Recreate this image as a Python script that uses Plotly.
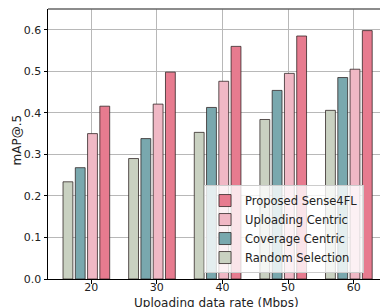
import plotly.graph_objects as go

rates = [20, 30, 40, 50, 60]
random_sel = [0.234, 0.290, 0.353, 0.384, 0.406]
coverage = [0.268, 0.338, 0.413, 0.454, 0.485]
uploading = [0.350, 0.421, 0.476, 0.495, 0.505]
proposed = [0.416, 0.498, 0.560, 0.585, 0.598]

series = [
    ("Random Selection", random_sel, "#c9d1c1", -4.30),
    ("Coverage Centric", coverage, "#79a8ae", -2.43),
    ("Uploading Centric", uploading, "#f0b8c5", -0.56),
    ("Proposed Sense4FL", proposed, "#e77b8f", 1.31),
]

fig = go.Figure()
for name, vals, color, off in series:
    fig.add_trace(go.Bar(
        x=rates, y=vals, name=name,
        offset=off, width=1.5,
        marker=dict(color=color, line=dict(color="rgba(40,30,30,0.75)", width=1)),
    ))

font = "DejaVu Sans, sans-serif"
fig.update_layout(
    width=380, height=307,
    margin=dict(l=48, r=0, t=9, b=28, autoexpand=False),
    barmode="overlay",
    plot_bgcolor="white", paper_bgcolor="white",
    font=dict(family=font, size=11, color="#222"),
    showlegend=True,
    legend=dict(
        traceorder="reversed",
        x=0.47, xanchor="left", y=0.348, yanchor="top",
        bgcolor="rgba(255,255,255,0.8)", bordercolor="#cccccc", borderwidth=1,
        font=dict(family=font, size=11.5, color="#222"),
        itemwidth=30, tracegroupgap=0,
    ),
    xaxis=dict(
        range=[13.41, 64.0], tickvals=rates, ticktext=[str(r) for r in rates],
        showgrid=True, gridcolor="#b8b8b8", gridwidth=1,
        showline=True, linecolor="black", linewidth=1,
        ticks="outside", ticklen=3.5, tickcolor="black",
        ticklabelstandoff=-6,
        zeroline=False, fixedrange=True, automargin=False,
    ),
    yaxis=dict(
        range=[0, 0.65], tickvals=[0, 0.1, 0.2, 0.3, 0.4, 0.5, 0.6], tickformat=".1f",
        showgrid=True, gridcolor="#b8b8b8", gridwidth=1,
        showline=True, linecolor="black", linewidth=1,
        ticks="outside", ticklen=3.5, tickcolor="black",
        zeroline=False, fixedrange=True, automargin=False,
    ),
    annotations=[
        dict(text="Uploading data rate (Mbps)", xref="paper", yref="paper",
             x=0.509, y=-0.09, xanchor="center", yanchor="middle", showarrow=False,
             font=dict(family=font, size=12, color="#222")),
        dict(text="mAP@.5", xref="paper", yref="paper", textangle=-90,
             x=-0.095, y=0.515, xanchor="center", yanchor="middle", showarrow=False,
             font=dict(family=font, size=12, color="#222")),
    ],
    shapes=[dict(type="line", xref="paper", yref="paper", x0=0, x1=1, y0=1, y1=1,
                 line=dict(color="#666666", width=1.5))],
)

fig.write_html("out.html", config={"displayModeBar": False},
               post_script="document.body.style.margin='0';")
